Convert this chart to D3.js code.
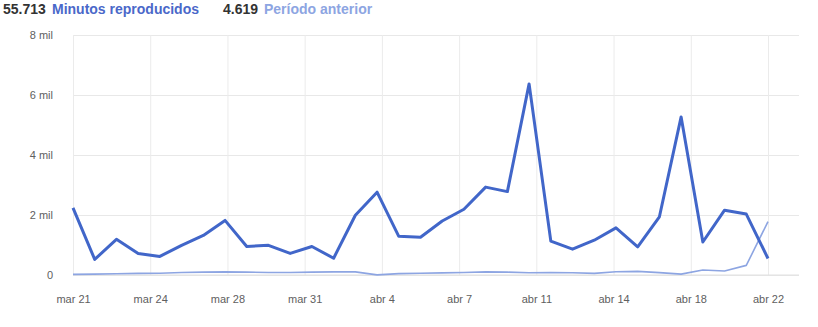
<!DOCTYPE html>
<html>
<head>
<meta charset="utf-8">
<script src="https://cdn.jsdelivr.net/npm/d3@7/dist/d3.min.js"></script>
<style>
  html, body { margin: 0; padding: 0; background: #fff; }
  svg { display: block; font-family: "Liberation Sans", Arial, sans-serif; }
</style>
</head>
<body>
<svg id="chart" width="818" height="327"></svg>
<script>
// Daily watch minutes, mar 21 – abr 22
const dates = d3.range(33);
const minutosReproducidos = [
  2240, 520, 1190, 720, 620, 990, 1320, 1820, 950, 990, 720, 950, 560,
  1990, 2760, 1290, 1260, 1800, 2190, 2930, 2780, 6370, 1130, 860, 1160,
  1570, 940, 1940, 5270, 1100, 2160, 2030, 550
];
const periodoAnterior = [
  20, 30, 40, 55, 60, 85, 95, 105, 95, 85, 85, 95, 105,
  105, 5, 45, 60, 70, 85, 105, 95, 75, 85, 75, 55,
  110, 120, 80, 30, 165, 135, 320, 1780
];
const xTickLabels = ["mar 21", "mar 24", "mar 28", "mar 31", "abr 4",
                     "abr 7", "abr 11", "abr 14", "abr 18", "abr 22"];
const yTicks = [0, 2000, 4000, 6000, 8000];
const totals = { actual: "55.713", anterior: "4.619" };

const svg = d3.select("#chart");
const m = { left: 73, right: 799, top: 35, bottom: 275, plotRight: 768 };

const x = d3.scaleLinear().domain([0, dates.length - 1]).range([m.left, m.plotRight]);
const y = d3.scaleLinear().domain([0, 8000]).range([m.bottom, m.top]);

// Header legend: totals followed by series names
const legendItems = [
  { text: totals.actual, color: "#333", x: 3 },
  { text: "Minutos reproducidos", color: "#4a68c9", x: 52 },
  { text: totals.anterior, color: "#333", x: 223 },
  { text: "Período anterior", color: "#8da5e2", x: 264 }
];
svg.append("g").selectAll("text").data(legendItems).join("text")
  .attr("x", d => d.x).attr("y", 14)
  .attr("font-size", 14).attr("font-weight", "bold")
  .attr("fill", d => d.color).text(d => d.text);

// Horizontal grid + y labels
const yAxis = d3.axisLeft(y).tickValues(yTicks)
  .tickSize(-(m.right - m.left))
  .tickFormat(d => d === 0 ? "0" : (d / 1000) + " mil");
const gy = svg.append("g").attr("transform", `translate(${m.left},0)`).call(yAxis);
gy.select(".domain").remove();
gy.selectAll(".tick line").attr("stroke", "#e8e8e8");
gy.selectAll(".tick text").attr("x", -20).attr("fill", "#606060")
  .attr("font-size", 11).attr("font-family", "'Liberation Sans', Arial, sans-serif");

// Evenly spaced date ticks across the period
const tickPos = xTickLabels.map((_, i) => i * (dates.length - 1) / (xTickLabels.length - 1));
const xAxis = d3.axisBottom(x).tickValues(tickPos)
  .tickSize(-(m.bottom - m.top))
  .tickFormat((d, i) => xTickLabels[i]);
const gx = svg.append("g").attr("transform", `translate(0,${m.bottom})`).call(xAxis);
gx.select(".domain").remove();
gx.selectAll(".tick line").attr("stroke", "#ebebeb");
gx.selectAll(".tick text").attr("y", 24).attr("dy", "0.32em").attr("fill", "#606060")
  .attr("font-size", 11).attr("font-family", "'Liberation Sans', Arial, sans-serif");

// Baseline
svg.append("line").attr("x1", m.left).attr("x2", m.right)
  .attr("y1", y(0)).attr("y2", y(0)).attr("stroke", "#e0e0e0");

const line = d3.line().x((d, i) => x(i)).y(d => y(d));

svg.append("path").datum(periodoAnterior)
  .attr("fill", "none").attr("stroke", "#8da5e2").attr("stroke-width", 1.6)
  .attr("stroke-linejoin", "round").attr("d", line);

svg.append("path").datum(minutosReproducidos)
  .attr("fill", "none").attr("stroke", "#4166c9").attr("stroke-width", 3)
  .attr("stroke-linejoin", "round").attr("d", line);
</script>
</body>
</html>
